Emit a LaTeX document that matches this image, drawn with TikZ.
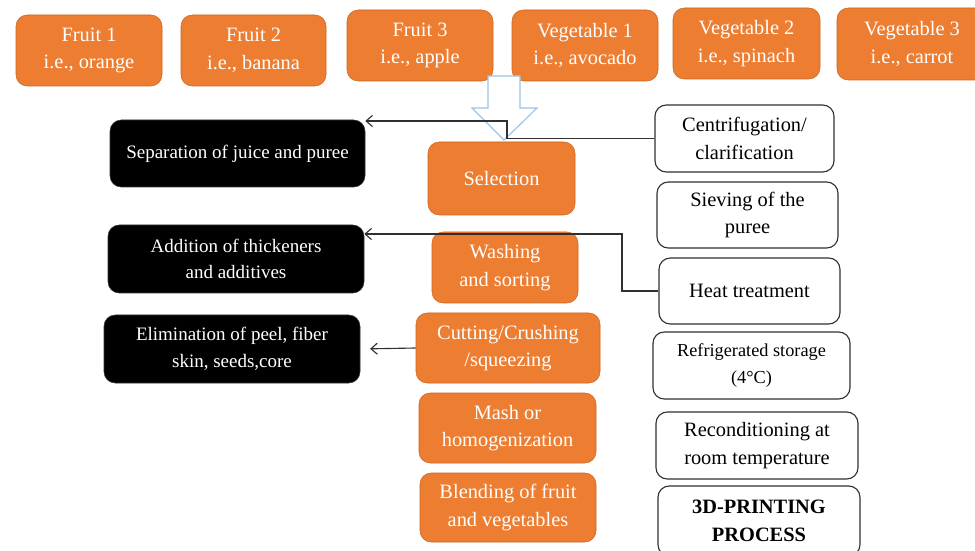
\documentclass[tikz,border=0pt]{standalone}
\usepackage{fontspec}
\setmainfont{Liberation Serif}
\usepackage{xcolor}
\usetikzlibrary{arrows.meta}

\definecolor{boxorange}{HTML}{ED7D31}
\definecolor{edgeorange}{HTML}{C96420}
\definecolor{paleblue}{HTML}{9DC3E6}
\definecolor{linegray}{HTML}{303030}

\begin{document}
\begin{tikzpicture}[
    x=0.025cm, y=-0.025cm,
    size/.style 2 args={minimum width=#1*0.025cm, minimum height=#2*0.025cm},
    fruitbox/.style={draw=edgeorange, fill=boxorange, rounded corners=8pt, text=white, align=center, inner sep=1pt, font=\fontsize{14.5}{19.5}\selectfont},
    blackbox/.style={draw=black!80, fill=black, rounded corners=8pt, text=white, align=center, inner sep=1pt, font=\fontsize{13.5}{19}\selectfont},
    whitebox/.style={draw=linegray, line width=0.8pt, fill=white, rounded corners=8pt, align=center, inner sep=1pt, font=\fontsize{14.5}{19.5}\selectfont},
    arrow/.style={-{Straight Barb[length=1.6mm, width=2.8mm]}, draw=linegray, line width=0.8pt},
    hollow/.style={draw=paleblue, line width=0.8pt, fill=white}
]
\useasboundingbox (0,0) rectangle (975,551);

% Fruits and vegetables
\node[fruitbox, size={146}{71}] (fruit1) at (89,50.5) {Fruit 1\\i.e., orange};
\node[fruitbox, size={145}{71}] (fruit2) at (253.5,50.5) {Fruit 2\\i.e., banana};
\node[fruitbox, size={146}{71}] (fruit3) at (420,45.5) {Fruit 3\\i.e., apple};
\node[fruitbox, size={146}{71}] (veg1) at (585,45.5) {Vegetable 1\\i.e., avocado};
\node[fruitbox, size={147}{71}] (veg2) at (746.5,43.5) {Vegetable 2\\i.e., spinach};
\node[fruitbox, size={150}{72}] (veg3) at (912,44) {Vegetable 3\\i.e., carrot};

% Big hollow arrow
\draw[hollow] (488,76) -- (520,76) -- (520,108) -- (537,108) -- (504,140) -- (472,108) -- (488,108) -- cycle;

% Main steps
\node[fruitbox, size={147}{73}] (select) at (501.5,178.5) {Selection};
\node[fruitbox, size={146}{71}] (wash) at (505,267.5) {Washing\\and sorting};
\node[fruitbox, size={184}{70}] (cut) at (508,348) {Cutting/Crushing\\/squeezing};
\node[fruitbox, size={177}{70}] (mash) at (507.5,428) {Mash or\\homogenization};
\node[fruitbox, size={176}{69}] (blend) at (508,507.5) {Blending of fruit\\and vegetables};

% Side operations
\node[blackbox, size={255}{67}] (separ) at (237.5,153.5) {Separation of juice and puree};
\node[blackbox, size={256}{68}] (addit) at (236,259) {Addition of thickeners\\and additives};
\node[blackbox, size={256}{68}] (elim) at (232,349) {Elimination of peel, fiber\\skin, seeds,core};

% Post-processing
\node[whitebox, size={179}{67}] (centri) at (744.5,138.5) {Centrifugation/\\clarification};
\node[whitebox, size={181}{66}] (sieve) at (747.5,215) {Sieving of the\\puree};
\node[whitebox, size={181}{66}] (heat) at (749.5,291) {Heat treatment};
\node[whitebox, size={197}{67}, font=\fontsize{13}{19}\selectfont] (fridge) at (751.5,365.5) {Refrigerated storage\\(4°C)};
\node[whitebox, size={202}{67}] (recond) at (757,445.5) {Reconditioning at\\room temperature};
\node[whitebox, size={202}{70}, font=\fontsize{14.5}{19.5}\selectfont\bfseries] (print) at (759,521) {3D-PRINTING\\PROCESS};

% Connectors
\coordinate (bend1) at (507,121);
\coordinate (bend2) at (622,234);
\draw[arrow] (centri.west) -| (bend1) -- (bend1 -| separ.east);
\draw[arrow] (heat.west) -| (bend2) -- (bend2 -| addit.east);
\draw[arrow, shorten >=7pt] (cut.west) -- (elim.east);

\end{tikzpicture}
\end{document}
